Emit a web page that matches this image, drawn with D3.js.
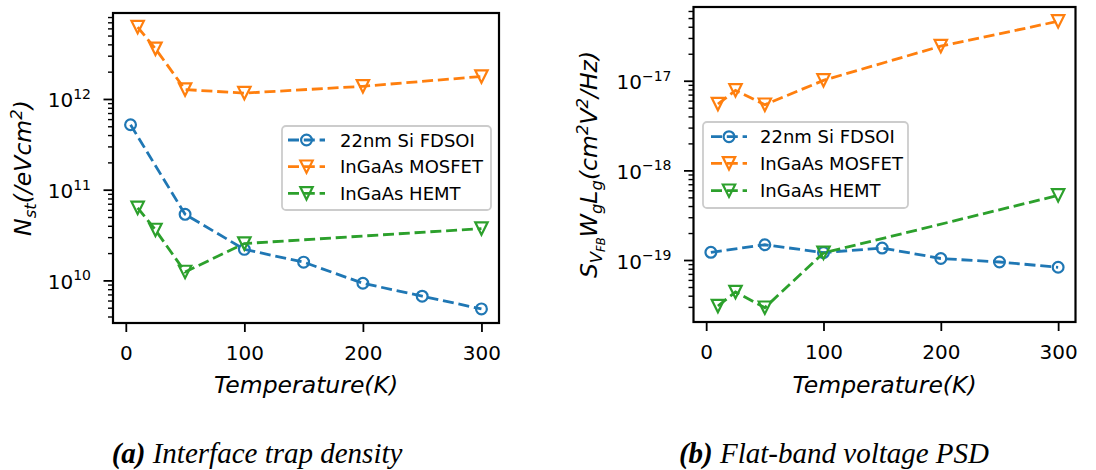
<!DOCTYPE html>
<html><head><meta charset="utf-8">
<script src="https://cdn.jsdelivr.net/npm/d3@7"></script>
<style>
body{margin:0;background:#fff}
svg{display:block}
text{font-family:"DejaVu Sans",sans-serif;fill:#000}
</style>
</head><body>
<svg id="chart" width="1096" height="470"></svg>
<script>
// ---------------- data ----------------
const seriesNames = ["22nm Si FDSOI", "InGaAs MOSFET", "InGaAs HEMT"];
const tempSi = [4, 50, 100, 150, 200, 250, 300];
const tempMosfet = [10, 25, 50, 100, 200, 300];
const tempHemt = [10, 25, 50, 100, 300];

const nstSi = [5.2e11, 5.35e10, 2.2e10, 1.59e10, 9.3e9, 6.7e9, 4.85e9];
const nstMosfet = [6.2e12, 3.58e12, 1.27e12, 1.16e12, 1.38e12, 1.77e12];
const nstHemt = [6.3e10, 3.6e10, 1.24e10, 2.55e10, 3.73e10];

const psdSi = [1.22e-19, 1.48e-19, 1.21e-19, 1.36e-19, 1.04e-19, 9.5e-20, 8.3e-20];
const psdMosfet = [5.5e-18, 7.8e-18, 5.4e-18, 1.01e-17, 2.43e-17, 4.6e-17];
const psdHemt = [3.07e-20, 4.4e-20, 2.94e-20, 1.2e-19, 5.26e-19];

const xTicks = [0, 100, 200, 300];
const nstTicks = [1e10, 1e11, 1e12];
const nstTickExp = ["10", "11", "12"];
const psdTicks = [1e-19, 1e-18, 1e-17];
const psdTickExp = ["\u221219", "\u221218", "\u221217"];
const xLabel = "Temperature(K)";
const captionTags = ["(a)", "(b)"];
const captionTexts = [" Interface trap density", " Flat-band voltage PSD"];

// ---------------- style ----------------
const colors = ["#1f77b4", "#ff7f0e", "#2ca02c"];
const markerKinds = ["circle", "tri", "tri"];
const DASH = "11,4.8";
const LW = 2.8;
const svg = d3.select("#chart");

function drawMarker(g, kind, cx, cy, color) {
  if (kind === "circle") {
    g.append("circle").attr("cx", cx).attr("cy", cy).attr("r", 5.4)
      .attr("fill", "none").attr("stroke", color).attr("stroke-width", 2.2);
  } else {
    const s = 6.2;
    g.append("path")
      .attr("d", `M${cx - s},${cy - s}L${cx + s},${cy - s}L${cx},${cy + s}Z`)
      .attr("fill", "none").attr("stroke", color).attr("stroke-width", 2.2)
      .attr("stroke-linejoin", "miter");
  }
}

function addRich(sel, parts) {
  parts.forEach(p => {
    const t = sel.append("tspan").text(p.t).attr("font-size", p.s);
    if (p.dy) t.attr("dy", p.dy);
  });
}

function logMinor(domain) {
  const lo = Math.floor(Math.log10(domain[0])), hi = Math.ceil(Math.log10(domain[1]));
  const out = [];
  for (let k = lo; k <= hi; k++) for (let m = 2; m <= 9; m++) {
    const v = m * Math.pow(10, k);
    if (v >= domain[0] && v <= domain[1]) out.push(v);
  }
  return out;
}

function panel(cfg) {
  const g = svg.append("g");
  const allX = cfg.xs.flat();
  const xMin = d3.min(allX), xMax = d3.max(allX), xm = (xMax - xMin) * 0.05;
  const x = d3.scaleLinear().domain([xMin - xm, xMax + xm]).range([cfg.left, cfg.right]);
  const allY = cfg.ys.flat();
  const lo = Math.log10(d3.min(allY)), hi = Math.log10(d3.max(allY)), ym = (hi - lo) * 0.05;
  const y = d3.scaleLog().domain([Math.pow(10, lo - ym), Math.pow(10, hi + ym)]).range([cfg.bottom, cfg.top]);

  // x axis
  const xa = g.append("g").attr("transform", `translate(0,${cfg.bottom})`)
    .call(d3.axisBottom(x).tickValues(xTicks).tickSize(9).tickPadding(13.5).tickFormat(d3.format("d")));
  xa.select(".domain").remove();
  xa.selectAll(".tick line").attr("stroke", "#000").attr("stroke-width", 1.8);
  xa.selectAll(".tick text").attr("font-size", 20).attr("font-family", "DejaVu Sans").attr("fill", "#000");

  // y axis major
  const yaMaj = g.append("g").attr("transform", `translate(${cfg.left},0)`)
    .call(d3.axisLeft(y).tickValues(cfg.yTicks).tickSize(9.5).tickFormat(""));
  yaMaj.select(".domain").remove();
  yaMaj.selectAll(".tick line").attr("stroke", "#000").attr("stroke-width", 1.8);
  // y axis minor
  const yaMin = g.append("g").attr("transform", `translate(${cfg.left},0)`)
    .call(d3.axisLeft(y).tickValues(logMinor(y.domain())).tickSize(5).tickFormat(""));
  yaMin.select(".domain").remove();
  yaMin.selectAll(".tick line").attr("stroke", "#000").attr("stroke-width", 1.4);

  // y tick labels 10^k
  cfg.yTicks.forEach((v, i) => {
    const t = g.append("text").attr("x", cfg.left - 22).attr("y", y(v) + 8.5)
      .attr("text-anchor", "end");
    addRich(t, [{t: "10", s: 20}, {t: cfg.yTickExp[i], s: 14, dy: -8.5}]);
  });

  // series
  cfg.xs.forEach((xs, si) => {
    const pts = xs.map((xv, j) => [x(xv), y(cfg.ys[si][j])]);
    g.append("path").attr("d", d3.line()(pts))
      .attr("fill", "none").attr("stroke", colors[si]).attr("stroke-width", LW)
      .attr("stroke-dasharray", DASH);
    pts.forEach(p => drawMarker(g, markerKinds[si], p[0], p[1], colors[si]));
  });

  // frame
  g.append("rect").attr("x", cfg.left).attr("y", cfg.top)
    .attr("width", cfg.right - cfg.left).attr("height", cfg.bottom - cfg.top)
    .attr("fill", "none").attr("stroke", "#000").attr("stroke-width", 2.2);

  // x label
  g.append("text").attr("x", (cfg.left + cfg.right) / 2).attr("y", 393)
    .attr("text-anchor", "middle").attr("font-size", 23.5).attr("font-style", "italic").text(xLabel);

  // y label
  const yl = g.append("text").attr("transform", `translate(${cfg.ylx},${(cfg.top + cfg.bottom) / 2}) rotate(-90)`)
    .attr("text-anchor", "middle").attr("font-style", "italic");
  addRich(yl, cfg.ylabel);

  // legend
  const L = cfg.legend;
  g.append("rect").attr("x", L.x0).attr("y", L.y0).attr("width", L.x1 - L.x0).attr("height", L.y1 - L.y0)
    .attr("rx", 4).attr("fill", "#fff").attr("fill-opacity", 0.8)
    .attr("stroke", "#cccccc").attr("stroke-width", 1.8);
  seriesNames.forEach((name, si) => {
    const ry = L.rows[si];
    g.append("line").attr("x1", L.h0).attr("x2", L.h1).attr("y1", ry).attr("y2", ry)
      .attr("stroke", colors[si]).attr("stroke-width", LW).attr("stroke-dasharray", DASH);
    drawMarker(g, markerKinds[si], (L.h0 + L.h1) / 2, ry, colors[si]);
    g.append("text").attr("x", L.tx).attr("y", ry + 6.5).attr("font-size", 18).text(name);
  });
}

panel({
  left: 113, right: 499, top: 13, bottom: 323,
  xs: [tempSi, tempMosfet, tempHemt], ys: [nstSi, nstMosfet, nstHemt],
  yTicks: nstTicks, yTickExp: nstTickExp, ylx: 31,
  ylabel: [{t: "N", s: 23.5}, {t: "st", s: 16.5, dy: 5}, {t: "(/eVcm", s: 23.5, dy: -5},
           {t: "2", s: 16.5, dy: -9}, {t: ")", s: 23.5, dy: 9}],
  legend: {x0: 282, x1: 491, y0: 126, y1: 210, rows: [140, 166.7, 193.3], h0: 288, h1: 325, tx: 340}
});

panel({
  left: 693.5, right: 1075.5, top: 7, bottom: 322,
  xs: [tempSi, tempMosfet, tempHemt], ys: [psdSi, psdMosfet, psdHemt],
  yTicks: psdTicks, yTickExp: psdTickExp, ylx: 597,
  ylabel: [{t: "S", s: 23.5}, {t: "V", s: 16.5, dy: 5}, {t: "FB", s: 11.5, dy: 3},
           {t: "W", s: 23.5, dy: -8}, {t: "g", s: 16.5, dy: 5}, {t: "L", s: 23.5, dy: -5},
           {t: "g", s: 16.5, dy: 5}, {t: "(cm", s: 23.5, dy: -5}, {t: "2", s: 16.5, dy: -9},
           {t: "V", s: 23.5, dy: 9}, {t: "2", s: 16.5, dy: -9}, {t: "/Hz)", s: 23.5, dy: 9}],
  legend: {x0: 703, x1: 908, y0: 122, y1: 208, rows: [136.7, 163.3, 190.7], h0: 711, h1: 747, tx: 760}
});

// captions
[257, 834].forEach((cx, i) => {
  const t = svg.append("text").attr("x", cx).attr("y", 463).attr("text-anchor", "middle")
    .style("font-family", "'Liberation Serif', serif").attr("font-size", 29).attr("font-style", "italic");
  t.append("tspan").attr("font-weight", "bold").text(captionTags[i]);
  t.append("tspan").text(captionTexts[i]);
});
</script>
</body></html>
